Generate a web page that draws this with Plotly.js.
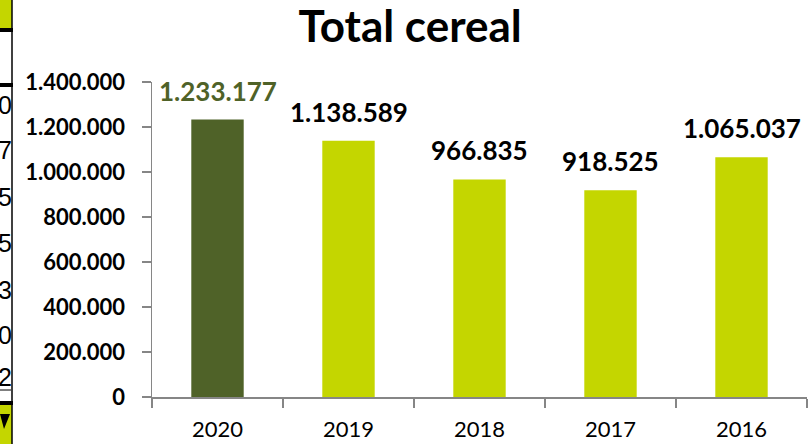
<!DOCTYPE html>
<html><head><meta charset="utf-8">
<script src="https://cdn.plot.ly/plotly-3.0.1.min.js"></script>
<style>html,body{margin:0;padding:0;background:#fff;overflow:hidden}#c{width:809px;height:444px}</style>
</head><body><div id="c"></div>
<script>
const years = ['2020','2019','2018','2017','2016'];
const values = [1233177, 1138589, 966835, 918525, 1065037];
const barColors = ['#4F6228','#C4D600','#C4D600','#C4D600','#C4D600'];
const labelColors = ['#4F6228','#000000','#000000','#000000','#000000'];
const tickVals = [0,200000,400000,600000,800000,1000000,1200000,1400000];
const edgeDigits = ['0','7','5','5','3','0','2'];
const edgeDigitY = [105,150,197,243,290,335,377];

const L = 152, W = 655, T = 82, H = 315;
function px(x){return (x - L)/W;}
function py(y){return 1 - (y - T)/H;}

const ann = values.map((v,i)=>({
  x: i, y: v, xref:'x', yref:'y', text: v.toLocaleString('de-DE'),
  showarrow:false, yanchor:'bottom', yshift: 11,
  font:{family:'Lato, "Open Sans", sans-serif', size:26, color: labelColors[i], weight:'bold'}
}));
edgeDigits.forEach((d,i)=>ann.push({
  x: px(14), y: py(edgeDigitY[i]), xref:'paper', yref:'paper', text:d, showarrow:false,
  xanchor:'right', yanchor:'middle', font:{family:'Liberation Sans, sans-serif', size:25, color:'#000'}
}));

const shapes = [
  {type:'rect', xref:'paper', yref:'paper', x0:px(0), x1:px(12), y0:py(0), y1:py(28), fillcolor:'#C4D600', line:{width:0}},
  {type:'rect', xref:'paper', yref:'paper', x0:px(0), x1:px(12), y0:py(405), y1:py(444), fillcolor:'#C4D600', line:{width:0}},
  {type:'line', xref:'paper', yref:'paper', x0:px(0), x1:px(13), y0:py(30), y1:py(30), line:{color:'#000', width:4}},
  {type:'line', xref:'paper', yref:'paper', x0:px(0), x1:px(13), y0:py(85), y1:py(85), line:{color:'#000', width:4}},
  {type:'line', xref:'paper', yref:'paper', x0:px(0), x1:px(13), y0:py(403), y1:py(403), line:{color:'#000', width:4}},
  {type:'line', xref:'paper', yref:'paper', x0:px(12), x1:px(12), y0:py(0), y1:py(444), line:{color:'#000', width:1.5}},
  {type:'line', xref:'paper', yref:'paper', x0:px(0), x1:px(11), y0:py(390), y1:py(390), line:{color:'#000', width:1}},
  {type:'path', xref:'paper', yref:'paper', path:`M ${px(0)} ${py(414)} L ${px(10)} ${py(414)} L ${px(4)} ${py(429)} Z`, fillcolor:'#000', line:{width:0}}
];

Plotly.newPlot('c', [{
  type:'bar', x: years, y: values, marker:{color: barColors, line:{width:0}},
  hoverinfo:'none'
}], {
  width:809, height:444,
  margin:{l:L, r:809-L-W, t:T, b:444-T-H, pad:0},
  separators: ',.',
  bargap: 0.6,
  paper_bgcolor:'#fff', plot_bgcolor:'#fff',
  showlegend:false,
  title:{text:'<b>Total cereal</b>', x:0.507, xref:'container', xanchor:'center', y:0.94, yref:'container', yanchor:'middle',
    font:{family:'Lato, "Open Sans", sans-serif', size:44, color:'#000'}},
  xaxis:{type:'category', range:[-0.5,4.5], showline:true, linecolor:'#868686', linewidth:1.5,
    ticks:'outside', tickson:'boundaries', ticklen:9, tickcolor:'#868686', tickwidth:1.5,
    tickfont:{family:'Lato, "Open Sans", sans-serif', size:22, color:'#000'},
    ticklabelstandoff: 12, showgrid:false, fixedrange:true},
  yaxis:{range:[0,1400000], tickvals: tickVals, tickformat:',d', showline:true, linecolor:'#868686', linewidth:1.5,
    ticks:'outside', ticklen:9, tickcolor:'#868686', tickwidth:1.5, showgrid:false, zeroline:false,
    tickfont:{family:'Lato, "Open Sans", sans-serif', size:22, color:'#000', weight:'bold'},
    ticklabelstandoff: 12, fixedrange:true},
  annotations: ann,
  shapes: shapes
}, {staticPlot:true, displayModeBar:false});
</script></body></html>
